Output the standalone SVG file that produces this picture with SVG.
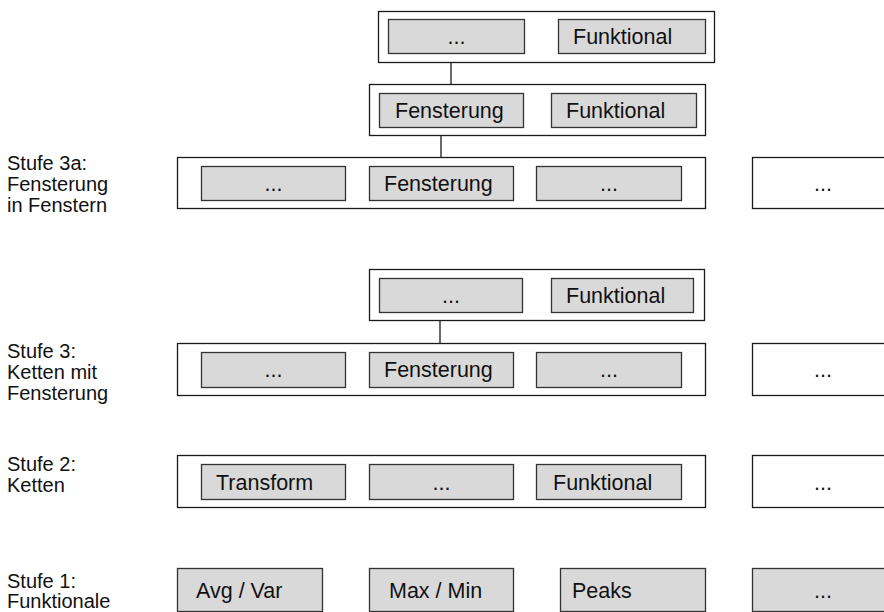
<svg xmlns="http://www.w3.org/2000/svg" width="884" height="612" viewBox="0 0 884 612">
  <style>
    .outer { fill: #ffffff; stroke: #1a1a1a; stroke-width: 1.3; }
    .cell { fill: #d9d9d9; stroke: #333333; stroke-width: 1.3; }
    .t { font-family: "Liberation Sans", Arial, sans-serif; font-size: 20px; fill: #111111; }
    .b { font-size: 21.5px; }
    .c { text-anchor: middle; }
    .link { stroke: #1a1a1a; stroke-width: 1.3; fill: none; }
  </style>
  <rect width="884" height="612" fill="#ffffff"/>

  <!-- level labels -->
  <g id="labels" class="t">
    <text x="7" y="170">Stufe 3a:</text>
    <text x="7" y="191">Fensterung</text>
    <text x="7" y="212">in Fenstern</text>
    <text x="7" y="358">Stufe 3:</text>
    <text x="7" y="379">Ketten mit</text>
    <text x="7" y="400">Fensterung</text>
    <text x="7" y="471">Stufe 2:</text>
    <text x="7" y="492">Ketten</text>
    <text x="7" y="588">Stufe 1:</text>
    <text x="7" y="608">Funktionale</text>
  </g>

  <!-- connectors between nested chains -->
  <g id="connectors">
    <line class="link" x1="451" y1="62" x2="451" y2="93"/>
    <line class="link" x1="441" y1="135" x2="441" y2="166"/>
    <line class="link" x1="440" y1="320" x2="440" y2="352"/>
  </g>

  <!-- stage 3a: windowing inside windows -->
  <g id="s3a-top">
    <rect class="outer" x="378.5" y="11.5" width="336" height="51"/>
    <rect class="cell" x="388.5" y="19.5" width="136" height="34"/>
    <text class="t b c" x="456.5" y="44">...</text>
    <rect class="cell" x="558.5" y="19.5" width="147" height="34"/>
    <text class="t b" x="573" y="44">Funktional</text>
  </g>
  <g id="s3a-mid">
    <rect class="outer" x="369.5" y="84.5" width="336" height="51"/>
    <rect class="cell" x="379.5" y="93.5" width="144" height="34"/>
    <text class="t b" x="395" y="118">Fensterung</text>
    <rect class="cell" x="551.5" y="93.5" width="145" height="34"/>
    <text class="t b" x="566" y="118">Funktional</text>
  </g>
  <g id="s3a-chain">
    <rect class="outer" x="177.5" y="157.5" width="528" height="51"/>
    <rect class="cell" x="201.5" y="166.5" width="144" height="34"/>
    <text class="t b c" x="273.5" y="191">...</text>
    <rect class="cell" x="369.5" y="166.5" width="144" height="34"/>
    <text class="t b" x="384" y="191">Fensterung</text>
    <rect class="cell" x="536.5" y="166.5" width="145" height="34"/>
    <text class="t b c" x="609" y="191">...</text>
  </g>
  <g id="s3a-more">
    <rect class="outer" x="752.5" y="157.5" width="140" height="51"/>
    <text class="t b c" x="823" y="191">...</text>
  </g>

  <!-- stage 3: chains with windowing -->
  <g id="s3-top">
    <rect class="outer" x="369.5" y="269.5" width="335" height="51"/>
    <rect class="cell" x="379.5" y="278.5" width="143" height="34"/>
    <text class="t b c" x="451" y="303">...</text>
    <rect class="cell" x="551.5" y="278.5" width="142" height="34"/>
    <text class="t b" x="566" y="303">Funktional</text>
  </g>
  <g id="s3-chain">
    <rect class="outer" x="177.5" y="343.5" width="528" height="52"/>
    <rect class="cell" x="201.5" y="352.5" width="144" height="35"/>
    <text class="t b c" x="273.5" y="377">...</text>
    <rect class="cell" x="369.5" y="352.5" width="144" height="35"/>
    <text class="t b" x="384" y="377">Fensterung</text>
    <rect class="cell" x="536.5" y="352.5" width="145" height="35"/>
    <text class="t b c" x="609" y="377">...</text>
  </g>
  <g id="s3-more">
    <rect class="outer" x="752.5" y="343.5" width="140" height="52"/>
    <text class="t b c" x="823" y="377">...</text>
  </g>

  <!-- stage 2: chains -->
  <g id="s2-chain">
    <rect class="outer" x="177.5" y="455.5" width="528" height="52"/>
    <rect class="cell" x="201.5" y="464.5" width="144" height="35"/>
    <text class="t b" x="216" y="490">Transform</text>
    <rect class="cell" x="369.5" y="464.5" width="144" height="35"/>
    <text class="t b c" x="441.5" y="490">...</text>
    <rect class="cell" x="536.5" y="464.5" width="145" height="35"/>
    <text class="t b" x="553" y="490">Funktional</text>
  </g>
  <g id="s2-more">
    <rect class="outer" x="752.5" y="455.5" width="140" height="52"/>
    <text class="t b c" x="823" y="490">...</text>
  </g>

  <!-- stage 1: functionals -->
  <g id="s1-avg">
    <rect class="cell" x="177.5" y="568.5" width="145" height="43"/>
    <text class="t b" x="196" y="598">Avg / Var</text>
  </g>
  <g id="s1-max">
    <rect class="cell" x="369.5" y="568.5" width="144" height="43"/>
    <text class="t b" x="389" y="598">Max / Min</text>
  </g>
  <g id="s1-peaks">
    <rect class="cell" x="560.5" y="568.5" width="145" height="43"/>
    <text class="t b" x="572" y="598">Peaks</text>
  </g>
  <g id="s1-more">
    <rect class="cell" x="752.5" y="568.5" width="140" height="43"/>
    <text class="t b c" x="823" y="598">...</text>
  </g>
</svg>
